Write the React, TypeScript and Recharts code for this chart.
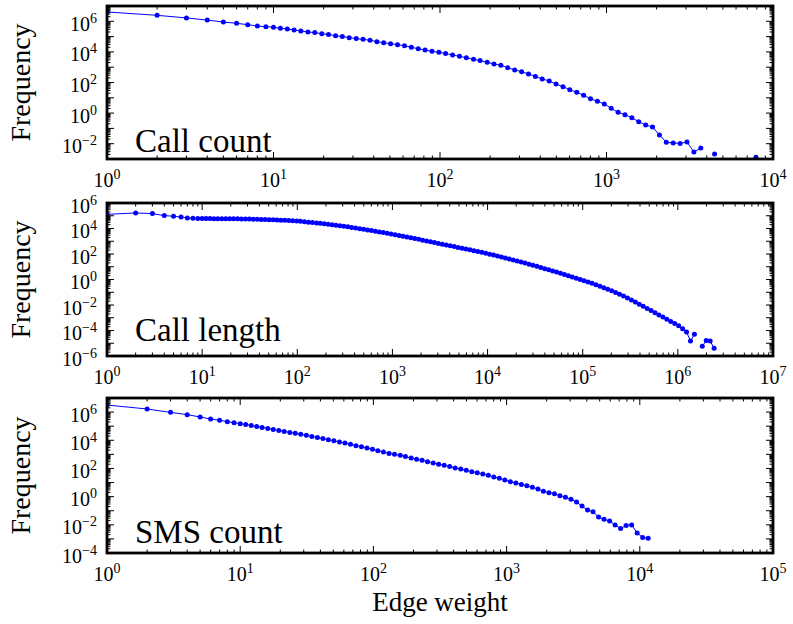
import { LineChart, Line, XAxis, YAxis } from 'recharts';

// Edge-weight bins: integers up to 10, then logarithmic bins
const weightBins = [
  1, 2, 3, 4, 5, 6, 7, 8, 9, 10,
  11, 12.1, 13.3, 14.6, 16.1, 17.7, 19.5, 21.4, 23.6, 25.9,
  28.5, 31.4, 34.5, 38.0, 41.8, 45.9, 50.5, 55.6, 61.2, 67.3,
  74.0, 81.4, 89.5, 98.5, 108, 119, 131, 144, 159, 174,
  192, 211, 232, 255, 281, 309, 340, 374, 411, 453,
  498, 548, 602, 663, 729, 802, 882, 970, 1067, 1174,
  1291, 1420, 1562, 1719, 1890, 2080, 2287, 2516, 2768, 3044,
  3349, 3684, 4052, 4457, 4903, 5393, 5933, 6526, 7178, 7896,
  8686, 9554, 10510, 11560, 12720, 13990, 15390, 16930, 18620, 20480,
  22530, 24780, 27260, 29990, 32990, 36280, 39910, 43900, 48290, 53120,
  58440, 64280, 70710, 77780, 85560, 94110, 103500, 113900, 125300, 137800,
  151600, 166700, 183400, 201700, 221900, 244100, 268500, 295400, 324900, 357400,
  393100, 432400, 475700, 523300, 575600, 633100, 696500, 766100, 842700, 927000,
  1020000, 1122000, 1234000, 1357000, 1493000, 1642000, 1806000, 1987000, 2186000, 2404000,
];

// log10(frequency) per bin, null = empty bin
const callCountExp: (number | null)[] = [
  6.61, 6.39, 6.22, 6.08, 5.95, 5.87, 5.78, 5.69, 5.65, 5.61,
  5.54, 5.50, 5.43, 5.37, 5.30, 5.26, 5.19, 5.13, 5.06, 5.00,
  4.93, 4.87, 4.82, 4.76, 4.67, 4.60, 4.54, 4.47, 4.41, 4.30,
  4.21, 4.12, 4.04, 3.97, 3.89, 3.80, 3.71, 3.62, 3.52, 3.43,
  3.32, 3.21, 3.12, 2.97, 2.82, 2.71, 2.56, 2.40, 2.23, 2.10,
  1.90, 1.73, 1.53, 1.36, 1.16, 0.94, 0.77, 0.60, 0.31, 0.05,
  -0.10, -0.30, -0.56, -0.78, -0.91, -1.43, -1.91, -1.95, -1.98, -1.89,
  -2.54, -2.28, null, -2.67, null, null, null, null, null, -2.89,
];

const callLengthExp: (number | null)[] = [
  5.11, 5.22, 5.17, 5.01, 4.96, 4.90, 4.83, 4.80, 4.79, 4.78,
  4.78, 4.78, 4.77, 4.77, 4.77, 4.77, 4.76, 4.76, 4.76, 4.75,
  4.75, 4.74, 4.73, 4.72, 4.71, 4.70, 4.69, 4.68, 4.67, 4.65,
  4.64, 4.62, 4.60, 4.58, 4.56, 4.53, 4.50, 4.47, 4.44, 4.41,
  4.37, 4.34, 4.30, 4.26, 4.22, 4.17, 4.13, 4.08, 4.03, 3.99,
  3.94, 3.89, 3.84, 3.79, 3.73, 3.68, 3.62, 3.57, 3.51, 3.45,
  3.39, 3.33, 3.27, 3.21, 3.15, 3.08, 3.02, 2.96, 2.90, 2.83,
  2.77, 2.70, 2.64, 2.58, 2.51, 2.45, 2.39, 2.33, 2.26, 2.19,
  2.13, 2.06, 1.99, 1.92, 1.84, 1.77, 1.69, 1.61, 1.53, 1.45,
  1.37, 1.29, 1.20, 1.12, 1.03, 0.94, 0.85, 0.76, 0.67, 0.58,
  0.49, 0.39, 0.30, 0.20, 0.10, 0.00, -0.10, -0.20, -0.30, -0.41,
  -0.52, -0.64, -0.76, -0.89, -1.02, -1.16, -1.30, -1.45, -1.61, -1.77,
  -1.94, -2.10, -2.27, -2.44, -2.61, -2.78, -2.95, -3.12, -3.29, -3.45,
  -3.62, -3.86, -4.12, -4.82, -4.30, null, -5.24, -4.79, -4.82, -5.40,
];

const smsCountExp: (number | null)[] = [
  6.50, 6.22, 5.98, 5.82, 5.65, 5.51, 5.42, 5.32, 5.25, 5.18,
  5.12, 5.05, 4.98, 4.91, 4.84, 4.77, 4.70, 4.63, 4.56, 4.49,
  4.42, 4.35, 4.27, 4.20, 4.12, 4.04, 3.96, 3.88, 3.80, 3.71,
  3.62, 3.54, 3.45, 3.36, 3.26, 3.17, 3.07, 3.00, 2.93, 2.84,
  2.74, 2.65, 2.58, 2.48, 2.39, 2.29, 2.22, 2.13, 2.03, 1.96,
  1.87, 1.77, 1.70, 1.61, 1.51, 1.39, 1.30, 1.18, 1.06, 0.97,
  0.87, 0.78, 0.66, 0.54, 0.38, 0.28, 0.21, 0.07, -0.05, -0.19,
  -0.38, -0.67, -0.95, -1.07, -1.45, -1.61, -1.73, -2.01, -2.27, -2.04,
  -2.01, -2.58, -2.90, -2.95,
];

const FONT = "'Liberation Serif', 'DejaVu Serif', 'Times New Roman', serif";
const BLUE = '#0000ff';
const PLOT_LEFT = 107;
const PLOT_RIGHT = 773;
const PLOT_W = PLOT_RIGHT - PLOT_LEFT;
const X_AXIS_H = 42;

const panels = [
  { title: 'Call count', exps: callCountExp, xDec: [0, 4], yDec: [-3, 7], yLabels: [-2, 0, 2, 4, 6], top: 0, mTop: 6, plotH: 153, titleY: 152 },
  { title: 'Call length', exps: callLengthExp, xDec: [0, 7], yDec: [-6, 6], yLabels: [-6, -4, -2, 0, 2, 4, 6], top: 190, mTop: 13, plotH: 153, titleY: 341 },
  { title: 'SMS count', exps: smsCountExp, xDec: [0, 5], yDec: [-4, 7], yLabels: [-4, -2, 0, 2, 4, 6], top: 390, mTop: 8, plotH: 155, titleY: 543 },
];

function logTicks(lo: number, hi: number) {
  const out: number[] = [];
  for (let d = lo; d <= hi; d++) {
    out.push(Math.pow(10, d));
    if (d < hi) [2, 3, 4, 5, 6, 7, 8, 9].forEach(m => out.push(m * Math.pow(10, d)));
  }
  return out;
}

const fmtExp = (e: number) => (e < 0 ? `\u2212${-e}` : `${e}`);

function tickInfo(v: number) {
  const lg = Math.log10(v);
  const e = Math.round(lg);
  return { e, major: Math.abs(lg - e) < 1e-6 };
}

const textStyle = { fontFamily: FONT };

function makeXTick(plotH: number) {
  return (props: any) => {
    const { x, y, payload } = props;
    const { e, major } = tickInfo(payload.value);
    const len = major ? 7 : 3.5;
    return (
      <g>
        <line x1={x} x2={x} y1={y} y2={y - len} stroke="#000" strokeWidth={1} />
        <line x1={x} x2={x} y1={y - plotH} y2={y - plotH + len} stroke="#000" strokeWidth={1} />
        {major && (
          <text x={x} y={y + 28} textAnchor="middle" style={textStyle} fontSize={20} fill="#000">
            10<tspan dy={-8} fontSize={14}>{fmtExp(e)}</tspan>
          </text>
        )}
      </g>
    );
  };
}

function makeYTick(labels: number[]) {
  return (props: any) => {
    const { x, y, payload } = props;
    const { e, major } = tickInfo(payload.value);
    const len = major ? 7 : 3.5;
    return (
      <g>
        <line x1={x} x2={x + len} y1={y} y2={y} stroke="#000" strokeWidth={1} />
        <line x1={x + PLOT_W} x2={x + PLOT_W - len} y1={y} y2={y} stroke="#000" strokeWidth={1} />
        {major && labels.includes(e) && (
          <text x={x - 10} y={y + 9.5} textAnchor="end" style={textStyle} fontSize={20} fill="#000">
            10<tspan dy={-8} fontSize={14}>{fmtExp(e)}</tspan>
          </text>
        )}
      </g>
    );
  };
}

function Panel({ p }: { p: (typeof panels)[number] }) {
  const data = p.exps.map((v, i) => ({ x: weightBins[i], y: v === null ? null : Math.pow(10, v) }));
  const h = p.mTop + p.plotH + X_AXIS_H;
  return (
    <div style={{ position: 'absolute', left: 0, top: p.top }}>
      <LineChart width={793} height={h} data={data} margin={{ top: p.mTop, right: 793 - PLOT_RIGHT, bottom: 0, left: 0 }}>
        <XAxis
          dataKey="x"
          type="number"
          scale="log"
          domain={[Math.pow(10, p.xDec[0]), Math.pow(10, p.xDec[1])]}
          allowDataOverflow
          ticks={logTicks(p.xDec[0], p.xDec[1])}
          interval={0}
          tickSize={0}
          tickMargin={0}
          tickLine={false}
          axisLine={false}
          height={X_AXIS_H}
          tick={makeXTick(p.plotH)}
        />
        <YAxis
          type="number"
          scale="log"
          domain={[Math.pow(10, p.yDec[0]), Math.pow(10, p.yDec[1])]}
          allowDataOverflow
          ticks={logTicks(p.yDec[0], p.yDec[1])}
          interval={0}
          tickSize={0}
          tickMargin={0}
          tickLine={false}
          axisLine={false}
          width={PLOT_LEFT}
          tick={makeYTick(p.yLabels)}
        />
        <Line
          dataKey="y"
          stroke={BLUE}
          strokeWidth={1}
          dot={{ r: 2.5, fill: BLUE, stroke: BLUE, strokeWidth: 0 }}
          activeDot={false}
          isAnimationActive={false}
        />
      </LineChart>
    </div>
  );
}

export default function App() {
  return (
    <div style={{ position: 'absolute', left: 0, top: 0, width: 793, height: 624, background: '#fff', fontFamily: FONT }}>
      {panels.map(p => (
        <Panel key={p.title} p={p} />
      ))}
      <svg width={793} height={624} style={{ position: 'absolute', left: 0, top: 0, pointerEvents: 'none' }}>
        {panels.map(p => {
          const t = p.top + p.mTop;
          return (
            <g key={p.title}>
              <rect x={PLOT_LEFT} y={t} width={PLOT_W} height={p.plotH} fill="none" stroke="#000" strokeWidth={2.8} />
              <text x={135} y={p.titleY} style={textStyle} fontSize={33} fill="#000">
                {p.title}
              </text>
              <text
                x={30}
                y={t + p.plotH / 2}
                transform={`rotate(-90, 30, ${t + p.plotH / 2})`}
                textAnchor="middle"
                style={textStyle}
                fontSize={28}
                fill="#000"
              >
                Frequency
              </text>
            </g>
          );
        })}
        <text x={440} y={611} textAnchor="middle" style={textStyle} fontSize={27} fill="#000">
          Edge weight
        </text>
      </svg>
    </div>
  );
}
